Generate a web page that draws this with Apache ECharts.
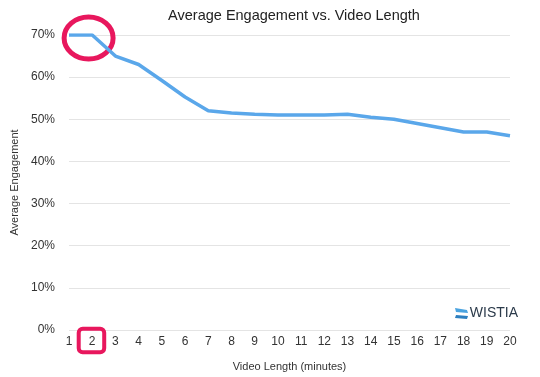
<!DOCTYPE html>
<html>
<head>
<meta charset="utf-8">
<script src="https://cdn.jsdelivr.net/npm/echarts@6/dist/echarts.min.js"></script>
<style>
  html, body { margin: 0; padding: 0; background: #fff; }
  #chart { width: 540px; height: 377px; }
</style>
</head>
<body>
<div id="chart"></div>
<script>
// video length in minutes
const minutes = ['1', '2', '3', '4', '5', '6', '7', '8', '9', '10',
  '11', '12', '13', '14', '15', '16', '17', '18', '19', '20']
// average engagement, percent
const engagement = [70, 70, 65, 63, 59.2, 55.3, 52, 51.5, 51.2, 51,
  51, 51, 51.2, 50.5, 50, 49, 48, 47, 47, 46.1]

const font = 'Liberation Sans, Arial, Helvetica, sans-serif'
const myChart = echarts.init(document.getElementById('chart'))

myChart.setOption({
  animation: false,
  title: {
    text: 'Average Engagement vs. Video Length',
    left: 289,
    textAlign: 'center',
    top: 3,
    textStyle: { fontFamily: font, fontSize: 14.5, fontWeight: 'normal', color: '#222' }
  },
  grid: { left: 69, right: 30, top: 35, bottom: 42 },
  xAxis: {
    type: 'category',
    data: minutes,
    boundaryGap: false,
    name: 'Video Length (minutes)',
    nameLocation: 'middle',
    nameGap: 31,
    nameTextStyle: { fontFamily: font, fontSize: 11, color: '#333' },
    axisLine: { show: false },
    axisTick: { show: false },
    axisLabel: { fontFamily: font, fontSize: 12, color: '#333', margin: 6, interval: 0 }
  },
  yAxis: {
    type: 'value',
    min: 0,
    max: 70,
    interval: 10,
    name: 'Average Engagement',
    nameLocation: 'middle',
    nameGap: 43,
    nameTextStyle: { fontFamily: font, fontSize: 11, color: '#333' },
    axisLine: { show: false },
    axisTick: { show: false },
    axisLabel: { fontFamily: font, fontSize: 12, color: '#333', margin: 14, formatter: '{value}%' },
    splitLine: { lineStyle: { color: '#e4e4e4', width: 1 } }
  },
  series: [{
    type: 'line',
    data: engagement,
    symbol: 'none',
    lineStyle: { color: '#5aa7ea', width: 3.5 }
  }]
})

// annotations placed from the data coordinates
const p2 = myChart.convertToPixel({ seriesIndex: 0 }, [1, 70])
const p1 = myChart.convertToPixel({ seriesIndex: 0 }, [0, 70])
const zero = myChart.convertToPixel({ seriesIndex: 0 }, [1, 0])
const last = myChart.convertToPixel({ seriesIndex: 0 }, [19, 0])
myChart.setOption({
  graphic: [
    {
      type: 'ellipse',
      shape: { cx: (p1[0] + p2[0]) / 2 + 8, cy: p1[1] + 3, rx: 24.5, ry: 21 },
      style: { fill: 'none', stroke: '#e8175d', lineWidth: 5 }
    },
    {
      type: 'rect',
      shape: { x: zero[0] - 13.5, y: zero[1] - 1.3, width: 25.5, height: 23.6, r: 4 },
      style: { fill: 'none', stroke: '#e8175d', lineWidth: 4 }
    },
    {
      type: 'polygon',
      shape: { points: [[last[0] - 55, last[1] - 22], [last[0] - 43, last[1] - 20], [last[0] - 42, last[1] - 17], [last[0] - 54, last[1] - 18]] },
      style: { fill: '#4aa3e0' }
    },
    {
      type: 'polygon',
      shape: { points: [[last[0] - 54, last[1] - 15], [last[0] - 42, last[1] - 14], [last[0] - 43, last[1] - 11], [last[0] - 55, last[1] - 12]] },
      style: { fill: '#2d7fc0' }
    },
    {
      type: 'text',
      style: {
        x: last[0] + 8, y: last[1] - 17,
        text: 'WISTIA',
        textAlign: 'right',
        textVerticalAlign: 'middle',
        fontFamily: font,
        fontSize: 14,
        fill: '#2b3a4a'
      }
    }
  ]
})

window.onresize = function () {
  myChart.resize()
}
</script>
</body>
</html>
